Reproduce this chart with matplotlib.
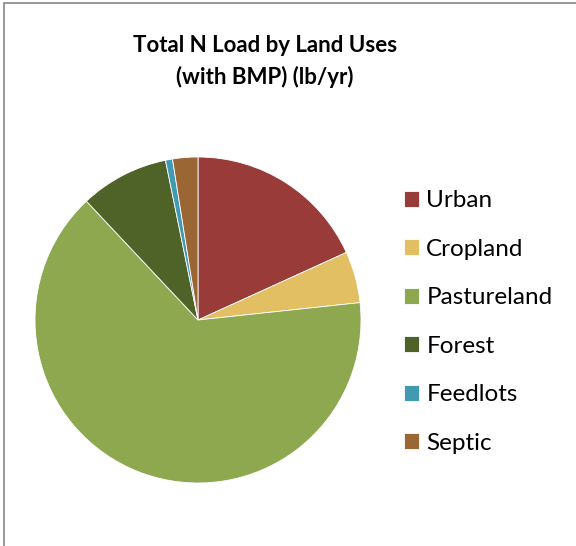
import matplotlib
matplotlib.use("Agg")
import matplotlib.pyplot as plt
from matplotlib.patches import Rectangle

# N load share by land use (percent)
categories = ["Urban", "Cropland", "Pastureland", "Forest", "Feedlots", "Septic"]
values = [18.2, 5.1, 64.7, 8.8, 0.7, 2.5]
colors = ["#993B39", "#E3BF64", "#8DA84F", "#4F6228", "#4299B2", "#9A6634"]

plt.rcParams["font.family"] = ["Lato", "DejaVu Sans"]

fig = plt.figure(figsize=(5.76, 5.46), dpi=100)

# chart frame
fig.patches.append(Rectangle((4 / 576, -0.1), 1.2, 1 - 3 / 546 + 0.1,
                             transform=fig.transFigure, fill=False,
                             edgecolor="#868686", linewidth=1.2))

cx, cy, r = 198 / 576, 1 - 320 / 546, 163
ax = fig.add_axes([cx - r / 576, cy - r / 546, 2 * r / 576, 2 * r / 546])
wedges, _ = ax.pie(values, colors=colors, startangle=90, counterclock=False,
                   radius=1.0, wedgeprops=dict(linewidth=0.6, edgecolor="white"))
ax.set_xlim(-1, 1)
ax.set_ylim(-1, 1)
ax.set_aspect("equal")

fig.text(265 / 576, 1 - 45 / 546, "Total N Load by Land Uses", ha="center",
         va="center", fontsize=16, fontweight="bold")
fig.text(265 / 576, 1 - 77 / 546, "(with BMP) (lb/yr)", ha="center",
         va="center", fontsize=16, fontweight="bold")

fig.legend(wedges, categories, loc="center left",
           bbox_to_anchor=(404 / 576, 1 - 322 / 546), frameon=False,
           borderpad=0, borderaxespad=0,
           fontsize=17.5, handlelength=0.62, handleheight=0.62,
           handletextpad=0.3, labelspacing=1.13)

fig.savefig("out.png", dpi=100)
